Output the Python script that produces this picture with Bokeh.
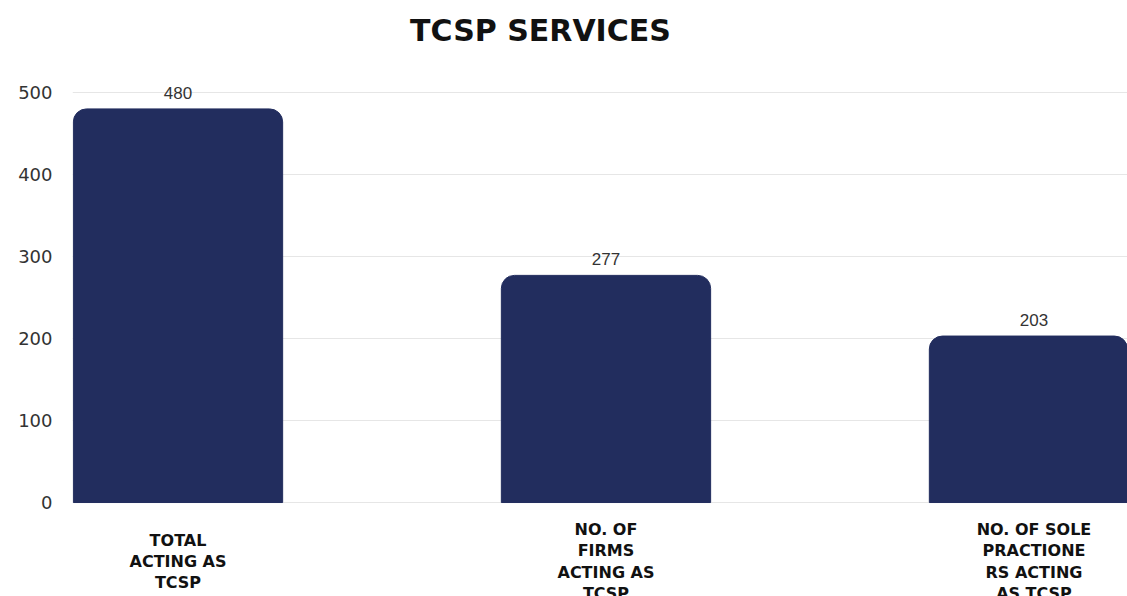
from bokeh.plotting import figure
from bokeh.models import Range1d, Label, ColumnDataSource
from bokeh.core.properties import value
from bokeh.embed import file_html
from bokeh.resources import INLINE

categories = ["TOTAL\nACTING AS\nTCSP",
              "NO. OF\nFIRMS\nACTING AS\nTCSP",
              "NO. OF SOLE\nPRACTIONE\nRS ACTING\nAS TCSP"]
counts = [480, 277, 203]
y_ticks = [0, 100, 200, 300, 400, 500]
title_text = "TCSP SERVICES"

xs = list(range(len(categories)))
src = ColumnDataSource(dict(x=xs, top=counts, lbl=[str(c) for c in counts]))

# the frame fills the canvas (except the y-axis strip) so title and category
# labels can be placed as annotations inside it
p = figure(width=1127, height=596, output_backend="svg", toolbar_location=None,
           x_range=Range1d(-0.2465, 2.2185), y_range=Range1d(-114.6, 612.2),
           min_border_left=72, min_border_right=0, min_border_top=0, min_border_bottom=0)

p.outline_line_color = None
p.background_fill_color = "white"
p.border_fill_color = "white"

p.vbar(x="x", top="top", bottom=0, width=0.489, source=src, fill_color="#222D5E",
       line_color="#222D5E", border_radius=(13, 13, 0, 0))

p.text(x="x", y="top", text="lbl", source=src, text_align="center",
       text_baseline="bottom", y_offset=-10, text_font=value("Liberation Sans"),
       text_font_size="17px", text_color="#333333")

p.xaxis.visible = False
p.xgrid.visible = False
p.ygrid.grid_line_color = "#e6e6e6"
p.ygrid.grid_line_width = 1

ax = p.yaxis[0]
ax.ticker = y_ticks
ax.axis_line_color = None
ax.major_tick_line_color = None
ax.minor_tick_line_color = None
ax.major_label_text_font = "DejaVu Sans"
ax.major_label_text_font_size = "18px"
ax.major_label_text_color = "#333333"
ax.major_label_standoff = 14

p.add_layout(Label(x=468, y=566, x_units="screen", y_units="screen", text=title_text,
                   text_align="center", text_baseline="middle", text_font="DejaVu Sans",
                   text_font_style="bold", text_font_size="30px", text_color="#111111"))

for i, c in enumerate(categories):
    p.add_layout(Label(x=xs[i], y=35, y_units="screen", text=c, text_align="center",
                       text_baseline="middle", text_font="DejaVu Sans", text_font_style="bold",
                       text_font_size="16px", text_color="#111111", text_line_height=1.13))

open("out.html", "w").write(file_html(p, INLINE))
